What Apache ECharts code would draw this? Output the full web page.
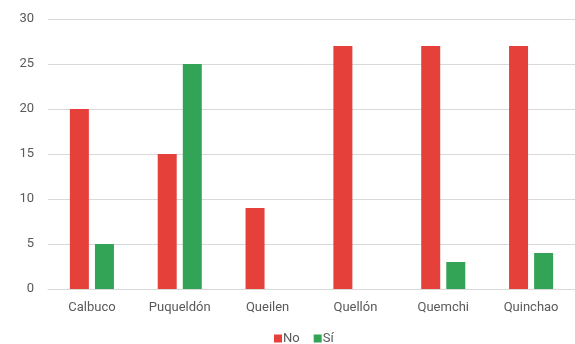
<!DOCTYPE html>
<html>
<head>
<meta charset="utf-8">
<script src="https://cdn.jsdelivr.net/npm/echarts@6/dist/echarts.min.js"></script>
<style>
  html, body { margin: 0; padding: 0; background: #fff; }
  #chart { width: 575px; height: 344px; }
</style>
</head>
<body>
<div id="chart"></div>
<script>
var comunas = ['Calbuco', 'Puqueldón', 'Queilen', 'Quellón', 'Quemchi', 'Quinchao'];
var valoresNo = [20, 15, 9, 27, 27, 27];
var valoresSi = [5, 25, 0, 0, 3, 4];

var myChart = echarts.init(document.getElementById('chart'));
var option = {
  animation: false,
  textStyle: { fontFamily: 'Roboto, Arial, sans-serif' },
  grid: { left: 48, right: -5, top: 19, bottom: 55 },
  legend: {
    top: 332,
    left: 274,
    padding: 0,
    itemWidth: 8,
    itemHeight: 8,
    itemGap: 14,
    icon: 'rect',
    textStyle: { color: '#595959', fontSize: 13, padding: [0, 0, 0, -4] },
    data: ['No', 'Sí']
  },
  xAxis: {
    type: 'category',
    data: comunas,
    axisLine: { show: true, lineStyle: { color: '#d9d9d9' } },
    axisTick: { show: false },
    axisLabel: { color: '#595959', fontSize: 13, margin: 12 }
  },
  yAxis: {
    type: 'value',
    min: 0,
    max: 30,
    interval: 5,
    axisLine: { show: false },
    axisTick: { show: false },
    axisLabel: { color: '#595959', fontSize: 13, margin: 14 },
    splitLine: { lineStyle: { color: '#d9d9d9' } }
  },
  series: [
    {
      name: 'No',
      type: 'bar',
      data: valoresNo,
      barWidth: 19,
      barGap: '32%',
      itemStyle: { color: '#e5413a' }
    },
    {
      name: 'Sí',
      type: 'bar',
      data: valoresSi,
      barWidth: 19,
      itemStyle: { color: '#33a356' }
    }
  ]
};
myChart.setOption(option);
</script>
</body>
</html>
